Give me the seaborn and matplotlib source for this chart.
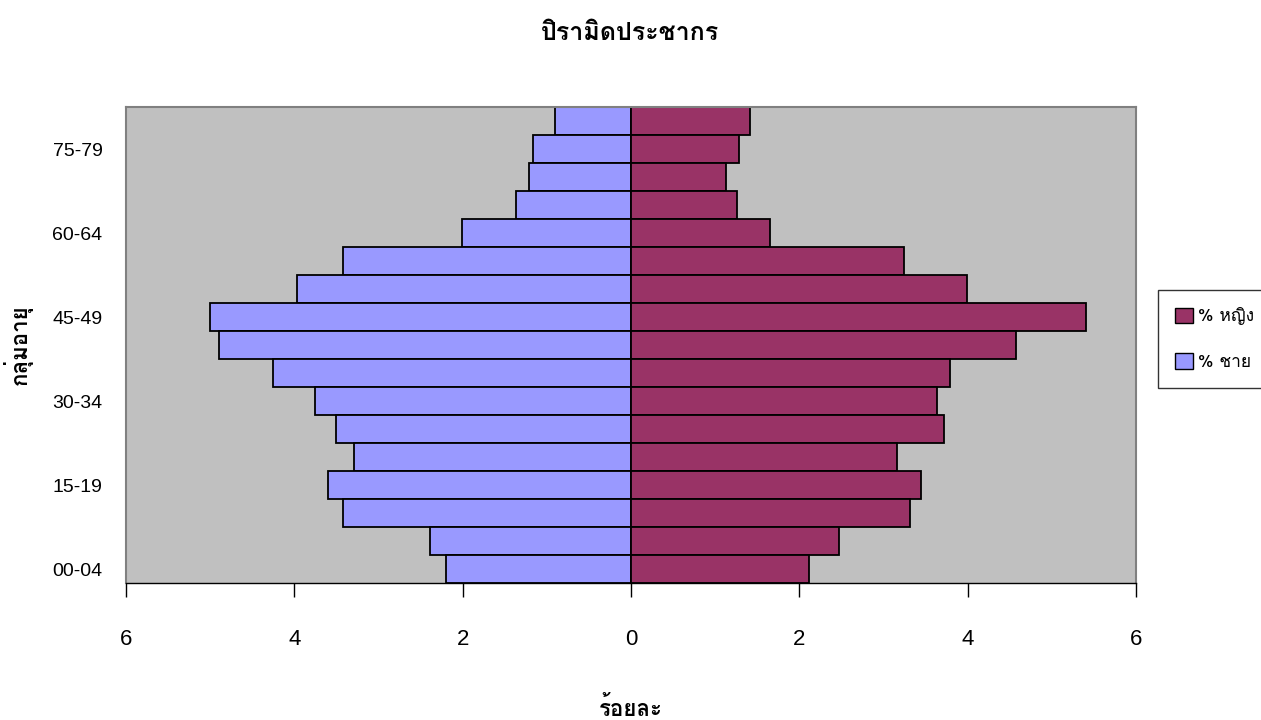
import matplotlib
matplotlib.use("Agg")
import matplotlib.pyplot as plt
from matplotlib.patches import Patch
import pandas as pd
import seaborn as sns

# age groups, bottom to top
ages = ["00-04", "05-09", "10-14", "15-19", "20-24", "25-29", "30-34", "35-39",
        "40-44", "45-49", "50-54", "55-59", "60-64", "65-69", "70-74", "75-79", "80+"]
male = [2.20, 2.39, 3.42, 3.60, 3.29, 3.50, 3.76, 4.25,
        4.90, 5.00, 3.97, 3.42, 2.01, 1.37, 1.21, 1.16, 0.90]
female = [2.11, 2.47, 3.31, 3.44, 3.16, 3.72, 3.63, 3.79,
          4.57, 5.40, 3.99, 3.24, 1.65, 1.26, 1.13, 1.28, 1.41]
shown_ages = ["00-04", "15-19", "30-34", "45-49", "60-64", "75-79"]
xticks = [-6, -4, -2, 0, 2, 4, 6]

male_lbl = "% ชาย"
female_lbl = "% หญิง"
c_male = "#9999FF"
c_female = "#993366"

sns.set_style("white")
plt.rcParams["font.family"] = ["Loma", "DejaVu Sans"]
plt.rcParams["text.color"] = "black"
plt.rcParams["axes.labelcolor"] = "black"
plt.rcParams["xtick.color"] = "black"
plt.rcParams["ytick.color"] = "black"

df = pd.DataFrame({
    "age": ages * 2,
    "pct": [-v for v in male] + female,
    "sex": [male_lbl] * len(ages) + [female_lbl] * len(ages),
})

fig = plt.figure(figsize=(12.61, 7.2), dpi=100)
ax = fig.add_axes([126 / 1261, 1 - 583 / 720, 1010 / 1261, 476 / 720])
order = ages[::-1]
sns.barplot(data=df, x="pct", y="age", hue="sex", order=order, orient="h",
            palette={male_lbl: c_male, female_lbl: c_female}, dodge=False,
            width=1.0, edgecolor="black", linewidth=1.3, saturation=1,
            legend=False, ax=ax)

ax.set_facecolor("#C0C0C0")
ax.set_xlim(-6, 6)
ax.set_ylim(len(ages) - 0.5, -0.5)
ax.set_yticks([order.index(a) for a in shown_ages])
ax.set_yticklabels(shown_ages, fontsize=14, family=["Liberation Sans", "DejaVu Sans"])
ax.tick_params(axis="y", length=0, pad=17)
ax.set_xticks(xticks)
ax.set_xticklabels([str(abs(t)) for t in xticks], fontsize=16,
                   family=["Liberation Sans", "DejaVu Sans"])
ax.tick_params(axis="x", direction="out", length=10, width=1, color="black", pad=23,
               bottom=True)
for s in ["top", "left", "right"]:
    ax.spines[s].set_color("#808080")
    ax.spines[s].set_linewidth(1.5)
ax.spines["bottom"].set_color("black")
ax.spines["bottom"].set_linewidth(1)

ax.set_xlabel("ร้อยละ", fontsize=16, fontweight="bold", labelpad=33)
ax.set_ylabel("กลุ่มอายุ", fontsize=16, fontweight="bold", labelpad=14)
fig.suptitle("ปิรามิดประชากร", fontsize=18, fontweight="bold", y=0.97)

handles = [Patch(facecolor=c_female, edgecolor="black", label=female_lbl),
           Patch(facecolor=c_male, edgecolor="black", label=male_lbl)]
leg = fig.legend(handles=handles, loc="upper left", bbox_to_anchor=(1158 / 1261, 1 - 290 / 720),
                 frameon=True, fancybox=False, edgecolor="black", fontsize=12.5,
                 handlelength=1.0, handleheight=1.0, handletextpad=0.3,
                 labelspacing=1.6, borderpad=1.0, borderaxespad=0)
leg.get_frame().set_linewidth(1)

fig.savefig("out.png", dpi=100)
